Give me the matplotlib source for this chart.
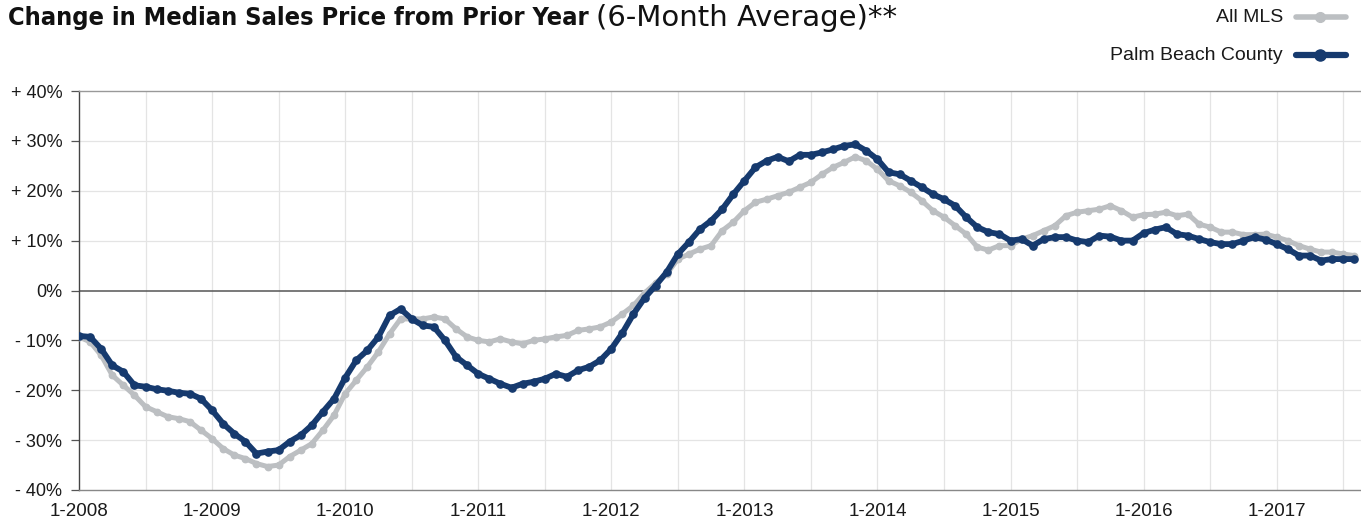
import matplotlib
matplotlib.use("Agg")
import matplotlib.pyplot as plt
from matplotlib.lines import Line2D
import numpy as np

# ---- data (monthly, 1-2008 .. 8-2017) ----
palm_beach = [
    -9.1, -9.3, -11.7, -15.0, -16.3, -19.0, -19.3, -19.8, -20.1, -20.5, -20.7, -21.7,
    -24.0, -26.7, -28.7, -30.3, -32.7, -32.3, -32.0, -30.3, -29.0, -27.0, -24.3, -21.7,
    -17.5, -14.0, -12.0, -9.3, -5.0, -3.7, -5.7, -7.0, -7.3, -10.0, -13.3, -15.0,
    -16.7, -17.7, -18.7, -19.5, -18.7, -18.3, -17.7, -16.7, -17.3, -16.0, -15.3, -14.0,
    -11.7, -8.5, -4.7, -1.5, 1.0, 3.7, 7.3, 9.7, 12.3, 14.0, 16.3, 19.3,
    22.0, 24.7, 26.0, 26.8, 25.9, 27.2, 27.2, 27.7, 28.3, 29.0, 29.3, 28.0,
    26.3, 23.7, 23.3, 22.0, 20.7, 19.3, 18.3, 17.0, 14.7, 12.7, 11.7, 11.3,
    10.0, 10.3, 9.0, 10.3, 10.7, 10.7, 10.0, 9.7, 11.0, 10.8, 10.0, 10.0,
    11.5, 12.2, 12.7, 11.3, 11.0, 10.3, 9.7, 9.3, 9.3, 10.0, 10.7, 10.2,
    9.3, 8.3, 7.0, 7.0, 6.0, 6.3, 6.3, 6.3,
]
all_mls = [
    -9.3, -10.3, -13.0, -17.0, -19.0, -21.0, -23.3, -24.3, -25.3, -25.7, -26.3, -28.0,
    -29.7, -31.7, -33.0, -33.7, -34.7, -35.3, -35.0, -33.3, -32.0, -30.7, -28.0, -25.0,
    -20.7, -18.0, -15.3, -12.3, -8.7, -5.7, -5.7, -5.7, -5.3, -5.7, -7.7, -9.3,
    -10.0, -10.3, -9.7, -10.3, -10.7, -10.0, -9.7, -9.3, -9.0, -8.0, -7.7, -7.3,
    -6.3, -4.7, -3.0, -0.5, 1.5, 3.3, 6.3, 7.3, 8.3, 9.0, 12.0, 13.7,
    16.0, 17.7, 18.3, 19.0, 19.7, 20.7, 21.7, 23.3, 24.7, 25.7, 26.8, 26.0,
    24.3, 22.0, 21.0, 19.7, 18.0, 16.0, 14.7, 13.0, 11.3, 8.7, 8.1, 9.0,
    9.0, 10.3, 11.0, 12.0, 13.0, 15.0, 15.7, 16.0, 16.3, 17.0, 16.0, 14.7,
    15.2, 15.3, 15.7, 15.0, 15.3, 13.3, 12.7, 11.7, 11.7, 11.2, 11.2, 11.3,
    10.7, 10.0, 9.0, 8.3, 7.7, 7.7, 7.3, 7.0,
]
year_labels = ["1-2008", "1-2009", "1-2010", "1-2011", "1-2012",
               "1-2013", "1-2014", "1-2015", "1-2016", "1-2017"]
y_ticks = [40, 30, 20, 10, 0, -10, -20, -30, -40]
y_tick_labels = ["+ 40%", "+ 30%", "+ 20%", "+ 10%", "0%",
                 "- 10%", "- 20%", "- 30%", "- 40%"]
series_names = ["All MLS", "Palm Beach County"]

DARK = "#163a6e"
GRAY = "#bcbfc2"

W, H = 1361, 521
fig = plt.figure(figsize=(W / 100, H / 100), dpi=100)
ax = fig.add_axes([79 / W, (H - 490) / H, (1361 - 79) / W, (490 - 91) / H])

months = np.arange(len(palm_beach))
ax.plot(months, all_mls, color=GRAY, lw=3.6, marker="o", ms=4.6,
        mfc=GRAY, mec=GRAY, solid_capstyle="round", zorder=3, clip_on=True)
ax.plot(months, palm_beach, color=DARK, lw=4.2, marker="o", ms=5.2,
        mfc=DARK, mec=DARK, solid_capstyle="round", zorder=4, clip_on=True)

ax.set_xlim(0, 115.6)
ax.set_ylim(-40, 40)

# grid
for m in range(6, 116, 6):
    ax.axvline(m, color="#e4e4e4", lw=0.9, zorder=1)
for v in [30, 20, 10, -10, -20, -30]:
    ax.axhline(v, color="#e4e4e4", lw=0.9, zorder=1)
ax.axhline(0, color="#555555", lw=1.1, zorder=2)

ax.set_yticks(y_ticks)
ax.set_yticklabels(y_tick_labels)
ax.set_xticks(np.arange(0, 12 * len(year_labels), 12))
ax.set_xticklabels(year_labels)
ax.tick_params(axis="y", length=6, width=0.9, color="#555555", pad=6,
               labelsize=13, labelcolor="#1a1a1a")
ax.tick_params(axis="x", length=0, pad=9, labelsize=13.5, labelcolor="#1a1a1a")
for lab in ax.get_xticklabels() + ax.get_yticklabels():
    lab.set_fontfamily(["Liberation Sans", "DejaVu Sans"])

ax.spines["right"].set_visible(False)
ax.spines["top"].set_color("#999999")
ax.spines["top"].set_linewidth(1.0)
ax.spines["left"].set_color("#444444")
ax.spines["left"].set_linewidth(1.0)
ax.spines["bottom"].set_color("#888888")
ax.spines["bottom"].set_linewidth(1.0)

# title
title_font = ["Liberation Sans Narrow", "DejaVu Sans"]
t1 = fig.text(8 / W, 1 - 18 / H, "Change in Median Sales Price from Prior Year",
              fontsize=18.2, fontweight="bold", fontfamily=title_font,
              fontstretch="condensed", va="center", ha="left", color="#111111")
fig.canvas.draw()
bb = t1.get_window_extent()
x_end = bb.x1 / W
fig.text(x_end + 7 / W, 1 - 18 / H, "(6-Month Average)**",
         fontsize=21, fontfamily=["DejaVu Sans"],
         va="center", ha="left", color="#111111")

# legend
leg_font = ["Liberation Sans", "DejaVu Sans"]
for name, yy, col, lw, ms in [(series_names[0], 17, GRAY, 4.0, 7),
                               (series_names[1], 55, DARK, 4.5, 8)]:
    fig.text(1283 / W, 1 - yy / H, name, fontsize=14, fontfamily=leg_font,
             ha="right", va="center", color="#1a1a1a")
    fig.add_artist(Line2D([1296 / W, 1346 / W], [1 - yy / H, 1 - yy / H],
                          transform=fig.transFigure, color=col, lw=lw,
                          solid_capstyle="round"))
    fig.add_artist(Line2D([1320 / W], [1 - yy / H], transform=fig.transFigure,
                          color=col, marker="o", ms=ms, lw=0))

fig.savefig("out.png", dpi=100, facecolor="white")
